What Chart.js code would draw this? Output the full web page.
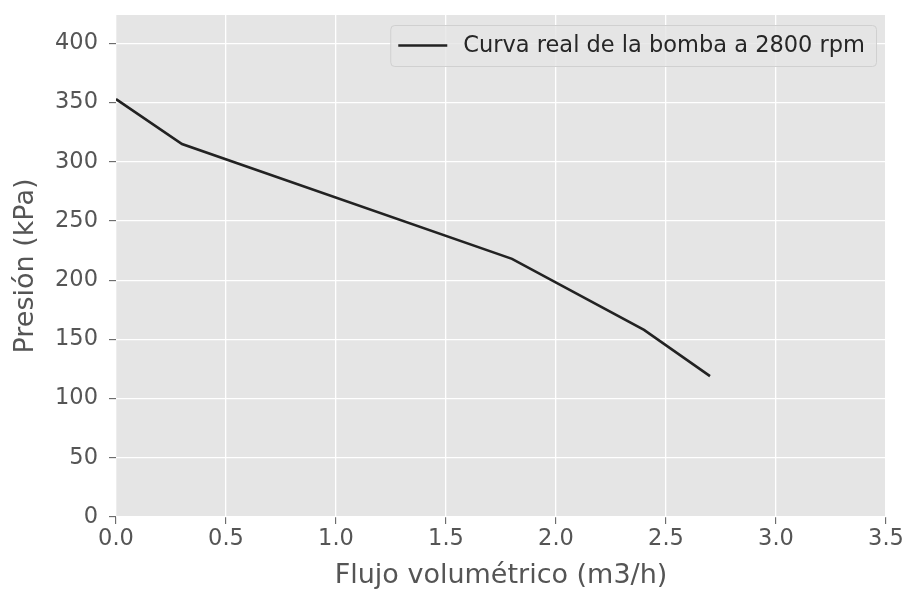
<!DOCTYPE html>
<html>
<head>
<meta charset="utf-8">
<script src="https://cdn.jsdelivr.net/npm/chart.js@4.4.1/dist/chart.umd.min.js"></script>
<style>
  html, body { margin: 0; padding: 0; background: #fff; }
  #wrap { width: 906px; height: 593px; position: relative; }
</style>
</head>
<body>
<div id="wrap"><canvas id="pumpChart" width="906" height="593"></canvas></div>
<script>
/* ── Data ──────────────────────────────────────────────── */
var flowValues     = [0.0, 0.3, 1.8, 2.4, 2.7];       // m3/h
var pressureValues = [353, 315, 218, 158, 119];       // kPa
var seriesLabel    = 'Curva real de la bomba a 2800 rpm';
var xTickStep = 0.5, yTickStep = 50;

var tickGrey = '#555555';
var font = 'DejaVu Sans';

/* ── Plot-area background (ggplot look) ── */
var panelBg = {
  id: 'panelBg',
  beforeDraw: function (chart) {
    var a = chart.chartArea, ctx = chart.ctx;
    ctx.save();
    ctx.fillStyle = '#E5E5E5';
    ctx.fillRect(a.left, a.top, a.right - a.left, a.bottom - a.top);
    ctx.restore();
  }
};

/* ── Legend drawn inside the plot, upper right ── */
var innerLegend = {
  id: 'innerLegend',
  afterDatasetsDraw: function (chart) {
    var ctx = chart.ctx, a = chart.chartArea;
    var x1 = a.right - 10, y0 = a.top + 10, h = 41;
    ctx.save();
    ctx.font = '22.5px "' + font + '"';
    var tw = ctx.measureText(seriesLabel).width;
    var w = 8 + 49 + 16 + tw + 11;
    var x0 = x1 - w;
    ctx.fillStyle = 'rgba(229,229,229,0.8)';
    ctx.strokeStyle = '#D0D0D0';
    ctx.lineWidth = 1;
    ctx.beginPath();
    ctx.roundRect(x0 + 0.5, y0 + 0.5, w, h, 4);
    ctx.fill();
    ctx.stroke();
    ctx.strokeStyle = '#222222';
    ctx.lineWidth = 2.5;
    ctx.beginPath();
    ctx.moveTo(x0 + 8, y0 + h / 2);
    ctx.lineTo(x0 + 57, y0 + h / 2);
    ctx.stroke();
    ctx.fillStyle = '#262626';
    ctx.textBaseline = 'middle';
    ctx.fillText(seriesLabel, x0 + 73, y0 + h / 2 + 1);
    ctx.restore();
  }
};

var points = flowValues.map(function (q, i) {
  return { x: q, y: pressureValues[i] };
});

new Chart(document.getElementById('pumpChart'), {
  type: 'line',
  data: {
    datasets: [{
      label: seriesLabel,
      data: points,
      borderColor: '#222222',
      borderWidth: 2.6,
      pointRadius: 0,
      tension: 0,
      fill: false
    }]
  },
  options: {
    responsive: false,
    animation: false,
    layout: { padding: { top: 15, right: 20, left: 0, bottom: 0 } },
    plugins: { legend: { display: false }, tooltip: { enabled: false } },
    scales: {
      x: {
        type: 'linear',
        min: 0,
        max: 3.5,
        border: { display: false },
        grid: { color: '#FFFFFF', lineWidth: 1.3, tickColor: tickGrey, tickLength: 7, tickWidth: 1 },
        ticks: {
          stepSize: xTickStep,
          color: tickGrey,
          font: { family: font, size: 22.5 },
          padding: 2,
          maxRotation: 0,
          callback: function (v) { return v.toFixed(1); }
        },
        title: {
          display: true,
          text: 'Flujo volumétrico (m3/h)',
          color: tickGrey,
          font: { family: font, size: 27 },
          padding: { top: 0, bottom: 1 }
        },
        afterFit: function (s) { s.height = 76; }
      },
      y: {
        min: 0,
        max: 424,
        border: { display: false },
        grid: { color: '#FFFFFF', lineWidth: 1.3, tickColor: tickGrey, tickLength: 7, tickWidth: 1 },
        ticks: {
          stepSize: yTickStep,
          color: tickGrey,
          font: { family: font, size: 22.5 },
          padding: 11
        },
        afterBuildTicks: function (s) {
          s.ticks = s.ticks.filter(function (t) { return t.value % yTickStep === 0; });
        },
        title: {
          display: true,
          text: 'Presión (kPa)',
          color: tickGrey,
          font: { family: font, size: 27 },
          padding: { top: 10, bottom: 0 }
        },
        afterFit: function (s) {
          s.width = 116;
          s.paddingTop = 0;
          s.paddingBottom = 0;
        }
      }
    }
  },
  plugins: [panelBg, innerLegend]
});
</script>
</body>
</html>
